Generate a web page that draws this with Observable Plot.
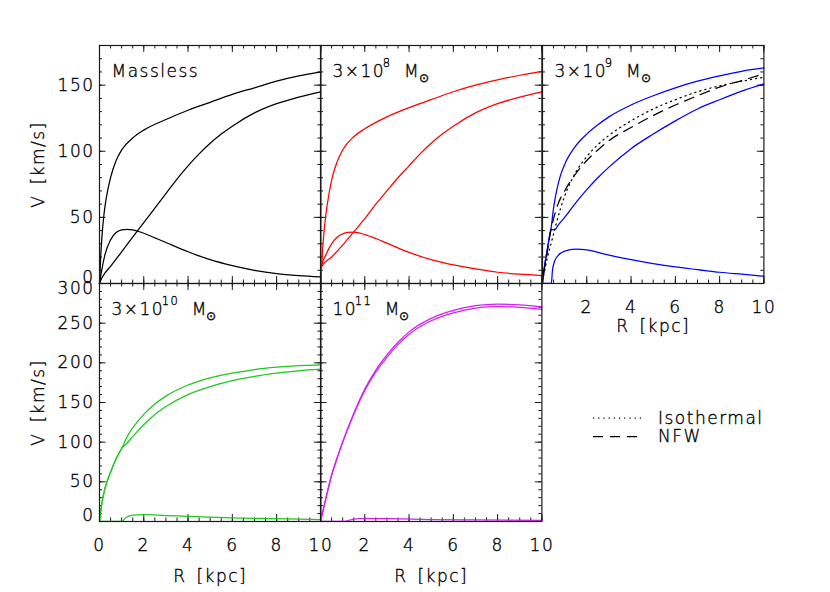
<!DOCTYPE html>
<html><head><meta charset="utf-8">
<script src="https://cdn.jsdelivr.net/npm/d3@7"></script>
<script src="https://cdn.jsdelivr.net/npm/@observablehq/plot@0.6"></script>
<style>
body{margin:0;background:#fff;}
#chart{position:relative;width:830px;height:592px;overflow:hidden;background:#fff;}
#chart svg{position:absolute;}
#chart svg text{stroke:#000;stroke-width:0.35px;}
</style></head><body><div id="chart"></div>
<script>
// ---------- data (R in kpc, V in km/s) ----------
// Massless
const rMlA = [0,0.05,0.1,0.2,0.3,0.5,0.75,1,1.5,2,3,4,5,6,7,8,9,10];
const vMlA = [0,19,33,52,64,80,93,101,110,116,124,131,137,143,148,153,157,160];
const rMlB = [0,0.1,0.25,0.5,1,1.5,2,2.5,3,3.5,4,4.5,5,5.5,6,7,8,9,10];
const vMlB = [0,4,8,13,24,35,46,57,68,79,89,98,106,113,119,129,136,141,145];
const rMlC = [0,0.1,0.25,0.5,0.75,1,1.25,1.5,2,2.5,3,4,5,6,7,8,9,10];
const vMlC = [0,10,22,33,38.5,40.5,41,40.5,38,34.5,31,24,18,13.5,10,7.5,6,5];
// 3x10^8
const rRdA = [0,0.05,0.1,0.2,0.3,0.5,0.75,1,1.5,2,3,4,5,6,7,8,9,10];
const vRdA = [0,13,27,46,59,78,92,101,111,117,126,133,139,145,150,154,157.5,160.5];
const rRdB = [0,0.05,0.5,1,1.5,2,2.5,3,3.5,4,4.5,5,5.5,6,7,8,9,10];
const vRdB = [0,13,20,29,39,49,60,70,80,89,98,106,113,119,129,136,141,145];
const rRdC = [0,0.05,0.25,0.5,0.75,1,1.25,1.5,2,2.5,3,4,5,6,7,8,9,10];
const vRdC = [0,13,22,30,35,37.5,38.6,38.8,37,34,30.5,23.5,18,14,11,8.5,7,6];
// 3x10^9
const rBlA = [0,0.1,0.2,0.3,0.38,0.5,0.6,0.8,1,1.5,2,2.5,3,4,5,6,7,8,9,10];
const vBlA = [0,14,24,34,41,57,67,81,90,104,113,120,126,135,142,148,153,157,160.5,163];
const rBlB = [0,0.1,0.2,0.3,0.38,0.55,0.7,1,1.5,2,2.5,3,4,5,6,7,8,9,10];
const vBlB = [0,14,24,34,41,40.5,44,50,61,71,80,88,102,113,123,132,139,145.5,151];
const rBlC = [0,0.4,0.45,0.55,0.7,1,1.5,2,2.5,3,4,5,6,7,8,9,10];
const vBlC = [0,0,10,17,21,24.5,26,25.5,23.5,21.5,18,15,12.5,10.5,8.5,7,5.5];
const rIso = [0.05,0.2,0.4,0.6,0.8,1,1.5,2,2.5,3,4,5,6,7,8,9,10];
const vIso = [6,18,31,44,56,66,84,96,105,112,123,132,139,145,149.5,153,156];
const rNfw = [0.05,0.2,0.35,0.5,0.7,1,1.5,2,2.5,3,4,5,6,7,8,9,10];
const vNfw = [8,22,38,49,60,70,83,93,101,108,118,127,135,142,148.5,153.5,158.5];
// 3x10^10
const rGrA = [0,0.1,0.25,0.5,0.75,1,1.25,1.5,2,2.5,3,4,5,6,7,8,9,10];
const vGrA = [0,22,42,62,79,92,107,118,135,148,158,172,181,187,191.5,194.5,196.5,197.5];
const rGrB = [0,0.1,0.25,0.5,0.75,1,1.25,1.5,2,2.5,3,4,5,6,7,8,9,10];
const vGrB = [0,22,42,62,79,92,99,107,122,135,145,160,170,177.5,183,187,190,192];
const rGrC = [0,1,1.2,1.5,2,3,4,5,6,8,10];
const vGrC = [0,0,5,8,8.5,7.5,6.5,5.5,4.5,3.5,2.5];
// 10^11
const rPuA = [0,0.25,0.5,0.75,1,1.5,2,2.5,3,3.5,4,5,6,7,7.5,8,9,10];
const vPuA = [0,30,58,80,100,136,167,191,210,226,239,256,266,272,273.5,274,273,270.5];
const rPuB = [0,0.25,0.5,0.75,1,1.5,2,2.5,3,3.5,4,5,6,7,7.5,8,9,10];
const vPuB = [0,30,58,80,100,135,165,188.5,207,223,236,253,263,269,270.5,271,270,267.5];
const rPuC = [0,1,1.5,2,3,5,7,10];
const vPuC = [0,0,3,4,3.5,2.5,2,1.5];

// tick values / labels
const xMajor = [0,2,4,6,8,10];
const xLabelsFull = [0,2,4,6,8,10];
const xLabelsNoZero = [2,4,6,8,10];
const yLabelsTop = [50,100,150];
const yLabelsBottom = [50,100,150,200,250];
const titles = ["Massless", "3\u00d710", "3\u00d710", "3\u00d710", "10"];
const titleSups = [null, "8", "9", "10", "11"];

// ---------- layout ----------
const FONT = '"DejaVu Sans ExtraLight", "DejaVu Sans", sans-serif';
const LS = 1.5; // letter spacing, px
const W = 221.4, H = 238;
const cols = [99, 320.4, 541.8];
const rows = [45, 283];
const mL = 75, mR = 20, mT = 10, mB = 80;
const AX = "#1a1a1a";
const chart = document.getElementById("chart");
const tab = (r, v) => r.map((d, i) => ({r: d, v: v[i]}));
const range = (a, b, s) => d3.range(a, b + s / 1000, s);
const ctx = document.createElement("canvas").getContext("2d");
const tw = (str, size) => { ctx.font = `200 ${size}px ${FONT}`; return ctx.measureText(str).width + LS * str.length; };

function titleMarks(i) {
  const base = titles[i], sup = titleSups[i];
  const t = [{text: base, dx: 12, dy: 32, size: 17}];
  if (sup) {
    const sx = 12 + tw(base, 17) - 2.5;
    const mx = sx + tw(sup, 11.5) + 12.5;
    t.push({text: sup, dx: sx, dy: 22, size: 11.5});
    t.push({text: "M", dx: mx, dy: 32, size: 17});
    t.push({text: "\u2299", dx: mx + tw("M", 17) - 1.5, dy: 37, size: 12});
  }
  return t.map(o => Plot.text([o.text], {frameAnchor: "top-left", dx: o.dx, dy: o.dy, fontSize: o.size, textAnchor: "start", lineAnchor: "bottom", fill: "#000"}));
}

function panel({idx, col, row, yMax, series, xLabels, yLabels, yTopLabel, vLabel, rLabel, rDy}) {
  const yMinor = range(0, yMax, 10), yMaj = range(0, yMax, 50);
  const xMinor = range(0, 10, 0.5);
  const tick = {stroke: AX, strokeWidth: 1};
  const lab = {tickSize: 0, label: null, fontSize: 17, fill: "#000"};
  const marks = [
    Plot.tickY(yMinor, {y: d => d, insetRight: W - 3, ...tick}),
    Plot.tickY(yMaj, {y: d => d, insetRight: W - 6.5, ...tick}),
    Plot.tickY(yMinor, {y: d => d, insetLeft: W - 3, ...tick}),
    Plot.tickY(yMaj, {y: d => d, insetLeft: W - 6.5, ...tick}),
    Plot.tickX(xMinor, {x: d => d, insetTop: H - 3.5, ...tick}),
    Plot.tickX(xMajor, {x: d => d, insetTop: H - 7, ...tick}),
    Plot.tickX(xMinor, {x: d => d, insetBottom: H - 3.5, ...tick}),
    Plot.tickX(xMajor, {x: d => d, insetBottom: H - 7, ...tick}),
    ...series.map(s => Plot.line(tab(s.r, s.v), {x: "r", y: "v", stroke: s.color, strokeWidth: 1.25, curve: "monotone-x", strokeDasharray: s.dash})),
    Plot.frame({stroke: AX, strokeWidth: 1.2}),
    ...titleMarks(idx)
  ];
  if (xLabels) marks.push(Plot.axisX(xLabels, {anchor: "bottom", tickPadding: 17, ...lab}));
  if (yLabels) {
    marks.push(Plot.axisY(yLabels, {anchor: "left", tickPadding: 5, ...lab}));
    marks.push(Plot.axisY([0], {anchor: "left", tickPadding: 5, dy: -6, ...lab}));
    if (yTopLabel != null) marks.push(Plot.axisY([yTopLabel], {anchor: "left", tickPadding: 5, dy: 5, ...lab}));
  }
  if (vLabel) marks.push(Plot.text(["V\u2002[km/s]"], {frameAnchor: "left", rotate: -90, dx: -61, fontSize: 17, fill: "#000", textAnchor: "middle"}));
  if (rLabel) marks.push(Plot.text(["R\u2002[kpc]"], {frameAnchor: "bottom", dy: rDy, fontSize: 17, fill: "#000", textAnchor: "middle"}));
  const svg = Plot.plot({
    width: W + mL + mR, height: H + mT + mB,
    marginLeft: mL, marginRight: mR, marginTop: mT, marginBottom: mB,
    x: {domain: [0, 10], axis: null},
    y: {domain: [0, yMax], axis: null},
    style: {background: "transparent", overflow: "visible", fontFamily: FONT, fontWeight: 200, fontSize: "17px", letterSpacing: LS + "px"},
    marks
  });
  svg.style.left = (cols[col] - mL) + "px";
  svg.style.top = (rows[row] - mT) + "px";
  chart.appendChild(svg);
}

panel({idx: 0, col: 0, row: 0, yMax: 180, yLabels: yLabelsTop, vLabel: true,
  series: [
    {r: rMlA, v: vMlA, color: "#000"}, {r: rMlB, v: vMlB, color: "#000"}, {r: rMlC, v: vMlC, color: "#000"}]});
panel({idx: 1, col: 1, row: 0, yMax: 180,
  series: [
    {r: rRdA, v: vRdA, color: "#f00"}, {r: rRdB, v: vRdB, color: "#f00"}, {r: rRdC, v: vRdC, color: "#f00"}]});
panel({idx: 2, col: 2, row: 0, yMax: 180, xLabels: xLabelsNoZero, rLabel: true, rDy: 49,
  series: [
    {r: rBlA, v: vBlA, color: "#00f"}, {r: rBlB, v: vBlB, color: "#00f"}, {r: rBlC, v: vBlC, color: "#00f"},
    {r: rIso, v: vIso, color: "#000", dash: "1.2,4"}, {r: rNfw, v: vNfw, color: "#000", dash: "10,7"}]});
panel({idx: 3, col: 0, row: 1, yMax: 300, xLabels: xLabelsFull, yLabels: yLabelsBottom, yTopLabel: 300, vLabel: true, rLabel: true, rDy: 61,
  series: [
    {r: rGrA, v: vGrA, color: "#1ec81e"}, {r: rGrB, v: vGrB, color: "#1ec81e"}, {r: rGrC, v: vGrC, color: "#1ec81e"}]});
panel({idx: 4, col: 1, row: 1, yMax: 300, xLabels: xLabelsNoZero, rLabel: true, rDy: 61,
  series: [
    {r: rPuA, v: vPuA, color: "#d020f0"}, {r: rPuB, v: vPuB, color: "#d020f0"}, {r: rPuC, v: vPuC, color: "#d020f0"}]});

// ---------- legend ----------
const legendLabels = ["Isothermal", "NFW"];
const legendDash = ["1.2,4", "10,7"];
const leg = d3.select(chart).append("svg").attr("width", 830).attr("height", 592)
  .style("left", "0px").style("top", "0px").style("font-family", FONT).style("font-weight", 200)
  .style("font-size", "17px").style("letter-spacing", LS + "px");
legendLabels.forEach((t, i) => {
  const y = 418 + i * 18.5;
  leg.append("line").attr("x1", 593).attr("x2", 641).attr("y1", y).attr("y2", y)
    .attr("stroke", "#000").attr("stroke-width", 1.25).attr("stroke-dasharray", legendDash[i]);
  leg.append("text").attr("x", 658).attr("y", y + 5.5).attr("fill", "#000").text(t);
});
</script></body></html>
